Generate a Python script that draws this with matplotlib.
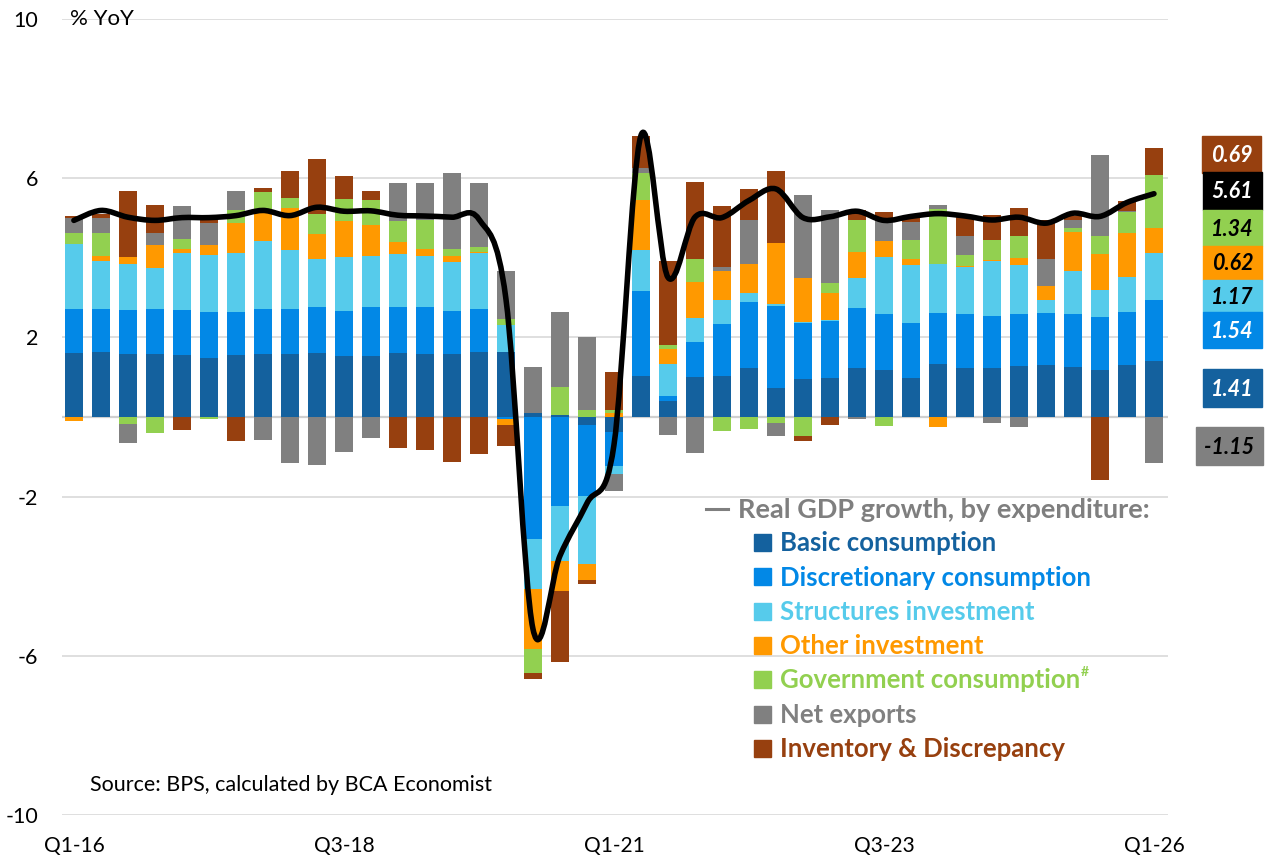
import matplotlib
matplotlib.use("Agg")
import matplotlib.pyplot as plt
from matplotlib.path import Path
from matplotlib.patches import PathPatch, Rectangle
import numpy as np

plt.rcParams['font.family'] = ['Lato', 'DejaVu Sans']

# ---------------- data ----------------
quarters = [f"Q{q}-{y}" for y in range(16, 26) for q in range(1, 5)] + ["Q1-26"]
tick_labels = ["Q1-16", "Q3-18", "Q1-21", "Q3-23", "Q1-26"]

basic = [1.62, 1.63, 1.58, 1.58, 1.56, 1.49, 1.55, 1.58, 1.58, 1.62, 1.53, 1.53, 1.62, 1.58, 1.58, 1.63,
         1.63, 0.09, 0.06, -0.20, -0.37, 1.04, 0.40, 1.00, 1.04, 1.23, 0.73, 0.95, 0.98, 1.22, 1.17, 0.97,
         1.34, 1.24, 1.22, 1.27, 1.30, 1.26, 1.17, 1.31, 1.41]
discretionary = [1.10, 1.08, 1.10, 1.13, 1.14, 1.14, 1.08, 1.13, 1.13, 1.15, 1.14, 1.23, 1.15, 1.18, 1.09, 1.08,
                 -0.05, -3.07, -2.23, -1.78, -0.86, 2.12, 0.13, 0.89, 1.30, 1.67, 2.07, 1.42, 1.44, 1.53, 1.43, 1.38,
                 1.27, 1.36, 1.31, 1.33, 1.31, 1.34, 1.34, 1.34, 1.54]
structures = [1.62, 1.20, 1.17, 1.04, 1.41, 1.43, 1.49, 1.70, 1.49, 1.19, 1.35, 1.29, 1.33, 1.29, 1.23, 1.41,
              0.67, -1.26, -1.38, -1.71, -0.19, 1.04, 0.79, 0.60, 0.61, 0.21, 0.03, 0.02, 0.02, 0.74, 1.41, 1.48,
              1.23, 1.16, 1.38, 1.22, 0.33, 1.07, 0.68, 0.88, 1.17]
other_inv = [-0.10, 0.13, 0.18, 0.58, 0.11, 0.27, 0.75, 0.74, 1.05, 0.65, 0.90, 0.77, 0.30, 0.17, 0.15, 0.03,
             -0.16, -1.49, -0.76, -0.40, 0.09, 1.26, 0.40, 0.89, 0.71, 0.73, 1.53, 1.09, 0.68, 0.65, 0.40, 0.13,
             -0.25, 0.03, 0.04, 0.17, 0.34, 0.99, 0.91, 1.09, 0.62]
government = [0.28, 0.58, -0.17, -0.39, 0.26, -0.05, 0.32, 0.50, 0.25, 0.49, 0.55, 0.64, 0.52, 0.72, 0.17, 0.11,
              0.15, -0.60, 0.70, 0.17, 0.09, 0.68, 0.09, 0.60, -0.34, -0.30, -0.14, -0.47, 0.25, 0.82, -0.23, 0.49,
              1.38, 0.28, 0.49, 0.55, 0.00, 0.08, 0.44, 0.52, 1.34]
net_exports = [0.38, 0.38, -0.49, 0.29, 0.83, 0.54, 0.48, -0.59, -1.15, -1.20, -0.88, -0.52, 0.95, 0.94, 1.92, 1.62,
               1.23, 1.16, 1.89, 1.85, -0.45, 0.12, -0.45, -0.91, 0.10, 1.11, -0.34, 2.10, 1.83, -0.06, 0.52, 0.46,
               0.11, 0.49, -0.14, -0.25, 0.70, 0.21, 2.05, 0.04, -1.15]
inventory = [0.06, 0.10, 1.64, 0.71, -0.32, 0.07, -0.61, 0.11, 0.69, 1.37, 0.58, 0.22, -0.79, -0.82, -1.13, -0.92,
             -0.52, -0.17, -1.79, -0.11, 0.96, 0.79, 2.12, 1.93, 1.55, 0.77, 1.81, -0.14, -0.19, 0.23, 0.22, 0.10,
             0.00, 0.47, 0.63, 0.70, 0.96, 0.10, -1.59, 0.25, 0.69]
gdp = [4.94, 5.19, 5.02, 4.94, 5.01, 5.01, 5.06, 5.19, 5.06, 5.27, 5.17, 5.18, 5.07, 5.05, 5.02, 4.97,
       2.97, -5.32, -3.49, -2.17, -0.71, 7.07, 3.51, 5.02, 5.01, 5.44, 5.73, 5.01, 5.03, 5.17, 4.94, 5.04,
       5.11, 5.05, 4.95, 5.02, 4.87, 5.12, 5.04, 5.39, 5.61]

series_names = ["Basic consumption", "Discretionary consumption", "Structures investment", "Other investment",
                "Government consumption", "Net exports", "Inventory & Discrepancy"]
series_values = [basic, discretionary, structures, other_inv, government, net_exports, inventory]
series_colors = ["#14619E", "#0288E6", "#56CBEB", "#FF9900", "#92D050", "#808080", "#97400F"]

last_labels = ["0.69", "5.61", "1.34", "0.62", "1.17", "1.54", "1.41", "-1.15"]
last_box_colors = ["#97400F", "#000000", "#92D050", "#FF9900", "#56CBEB", "#0288E6", "#14619E", "#808080"]
last_text_colors = ["white", "white", "black", "black", "black", "white", "white", "black"]

# ---------------- figure ----------------
W, H = 1268, 857
fig = plt.figure(figsize=(W / 100, H / 100), dpi=100)

def fx(x):
    return x / W

def fy(y):
    return 1 - y / H

ax = fig.add_axes([fx(62), fy(815), (1168 - 62) / W, (815 - 19) / H])
x = np.arange(len(quarters))

pos_bottom = np.zeros(len(x))
neg_bottom = np.zeros(len(x))
for vals, col in zip(series_values, series_colors):
    v = np.array(vals)
    bottom = np.where(v >= 0, pos_bottom, neg_bottom)
    ax.bar(x, v, width=0.67, bottom=bottom, color=col, zorder=3, linewidth=0)
    pos_bottom = pos_bottom + np.where(v >= 0, v, 0)
    neg_bottom = neg_bottom + np.where(v < 0, v, 0)

# smoothed GDP line (Catmull-Rom style Bezier like Excel's smoothed line)
g = np.array(gdp)
n = len(g)
verts = [(x[0], g[0])]
codes = [Path.MOVETO]
for i in range(n - 1):
    p0 = np.array([x[max(i - 1, 0)], g[max(i - 1, 0)]])
    p1 = np.array([x[i], g[i]])
    p2 = np.array([x[i + 1], g[i + 1]])
    p3 = np.array([x[min(i + 2, n - 1)], g[min(i + 2, n - 1)]])
    c1 = p1 + (p2 - p0) / 6.0
    c2 = p2 - (p3 - p1) / 6.0
    verts += [tuple(c1), tuple(c2), tuple(p2)]
    codes += [Path.CURVE4] * 3
ax.add_patch(PathPatch(Path(verts, codes), fill=False, edgecolor="black", lw=4,
                       capstyle="round", joinstyle="round", zorder=5))

ax.set_xlim(-0.44, 40.52)
ax.set_ylim(-10, 10)
ax.set_yticks([-10, -6, -2, 2, 6, 10])
ax.set_yticklabels(["-10", "-6", "-2", "2", "6", "10"])
ax.set_xticks([quarters.index(t) for t in tick_labels])
ax.set_xticklabels(tick_labels)
ax.tick_params(axis="both", length=0, colors="black")
ax.tick_params(axis="y", pad=17, labelsize=15.5)
ax.tick_params(axis="x", pad=15, labelsize=15)
ax.grid(axis="y", color="#D9D9D9", lw=1.2, zorder=0)
ax.axhline(0, color="#D0D0D0", lw=1.6, zorder=1)
for s in ax.spines.values():
    s.set_visible(False)

fig.text(fx(70), fy(19), "% YoY", fontsize=16, va="center", ha="left", zorder=6)
fig.text(fx(90), fy(785), "Source: BPS, calculated by BCA Economist", fontsize=15.5, va="center", ha="left")

# ---------------- legend ----------------
fig.lines.append(plt.Line2D([fx(706), fx(728)], [fy(509), fy(509)], color="#7F7F7F", lw=2.2,
                            transform=fig.transFigure))
fig.text(fx(738), fy(509 + 9.5), "Real GDP growth, by expenditure:", fontsize=19.5, fontweight="bold",
         color="#7F7F7F", va="baseline", ha="left")
row_y = [542.3, 576.7, 611, 645, 679, 714, 748.3]
for name, col, yc in zip(series_names, series_colors, row_y):
    fig.patches.append(Rectangle((fx(754), fy(yc + 8.5)), 17 / W, 17 / H, color=col,
                                 transform=fig.transFigure))
    t = fig.text(fx(780), fy(yc + 9), name, fontsize=18.5, fontweight="bold", color=col,
                 va="baseline", ha="left")
    if name == "Government consumption":
        fig.canvas.draw()
        bb = t.get_window_extent()
        fig.text((bb.x1 + 1) / W, fy(yc - 3), "#", fontsize=10, fontweight="bold", color=col,
                 va="baseline", ha="left")

# ---------------- last-value boxes ----------------
boxes = [(1202, 136, 1261, 173), (1203, 172, 1262, 210), (1203, 210, 1262, 246), (1203, 246, 1262, 280),
         (1203, 280, 1262, 312), (1203, 312, 1262, 348), (1203, 369, 1262, 407), (1196, 427, 1263, 465)]
for (x0, y0, x1, y1), lab, bc, tc in zip(boxes, last_labels, last_box_colors, last_text_colors):
    fig.patches.append(Rectangle((fx(x0), fy(y1)), (x1 - x0) / W, (y1 - y0) / H, color=bc,
                                 transform=fig.transFigure, zorder=2))
    yc = (y0 + y1) / 2
    fig.text(fx((x0 + x1) / 2), fy(yc + 7.5), lab, fontsize=15.5, fontweight="bold", fontstyle="italic",
             color=tc, va="baseline", ha="center", zorder=3)

fig.savefig("out.png", dpi=100)
